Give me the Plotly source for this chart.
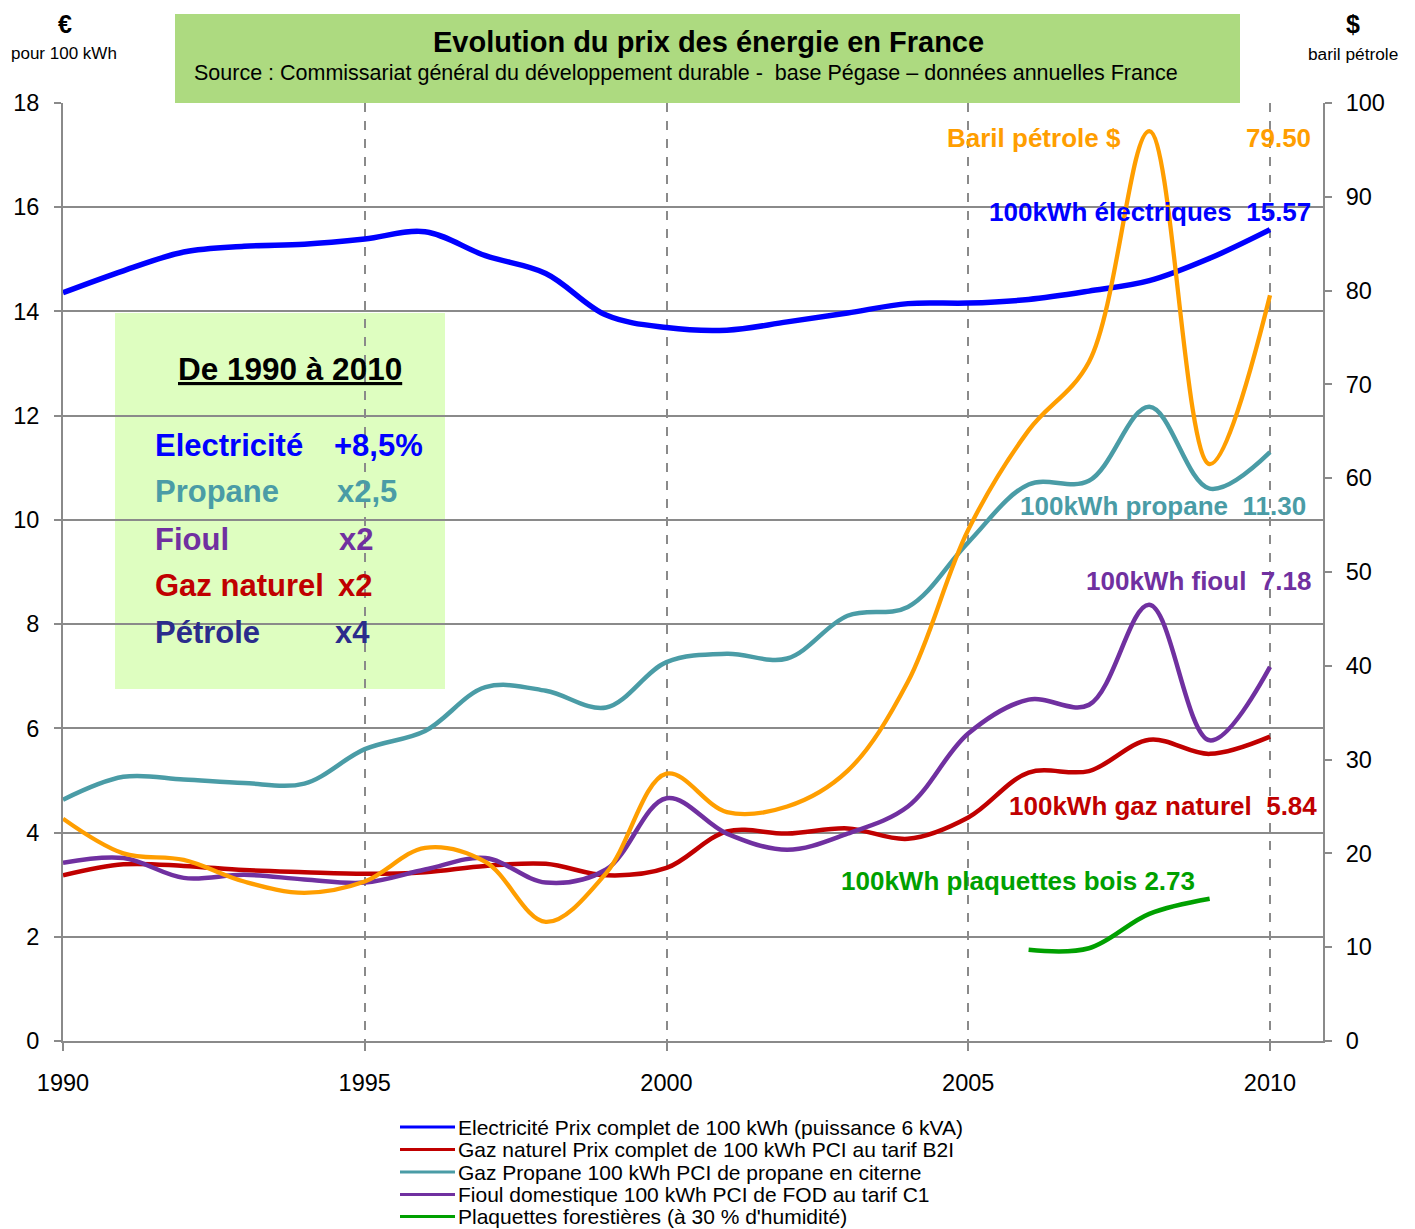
import plotly.graph_objects as go

# ---------------- data ----------------
years = list(range(1990, 2011))
elec = [14.36, 14.78, 15.14, 15.25, 15.29, 15.39, 15.53, 15.07, 14.73, 13.93, 13.69,
        13.64, 13.80, 13.97, 14.15, 14.16, 14.23, 14.39, 14.59, 15.02, 15.57]
gaz = [3.18, 3.39, 3.36, 3.28, 3.24, 3.21, 3.24, 3.36, 3.40, 3.18, 3.32,
       4.02, 3.98, 4.08, 3.88, 4.29, 5.15, 5.18, 5.78, 5.51, 5.84]
propane = [4.63, 5.07, 5.02, 4.95, 4.94, 5.60, 5.95, 6.79, 6.72, 6.40, 7.27,
           7.43, 7.34, 8.16, 8.33, 9.57, 10.68, 10.75, 12.17, 10.60, 11.30]
fioul = [3.42, 3.51, 3.13, 3.19, 3.10, 3.04, 3.29, 3.51, 3.04, 3.29, 4.66,
         3.98, 3.67, 3.98, 4.50, 5.90, 6.55, 6.45, 8.37, 5.77, 7.18]
bois_years = [2006, 2007, 2008, 2009]
bois = [1.75, 1.78, 2.44, 2.73]
petrole = [23.7, 20.0, 19.3, 17.0, 15.8, 17.0, 20.6, 19.1, 12.7, 17.9, 28.5,
           24.4, 25.0, 28.8, 38.3, 54.5, 65.1, 72.4, 97.0, 61.5, 79.5]

x_ticks = [1990, 1995, 2000, 2005, 2010]
left_ticks = list(range(0, 19, 2))
right_ticks = list(range(0, 101, 10))

legend_names = [
    "Electricité Prix complet de 100 kWh (puissance 6 kVA)",
    "Gaz naturel Prix complet de 100 kWh PCI au tarif B2I",
    "Gaz Propane 100 kWh PCI de propane en citerne",
    "Fioul domestique 100 kWh PCI de FOD au tarif C1",
    "Plaquettes forestières (à 30 % d'humidité)",
]

# ---------------- styles ----------------
BLUE = "#0000FF"
RED = "#C00000"
TEAL = "#4A9CA6"
PURPLE = "#7030A0"
ORANGE = "#FF9E00"
GREEN = "#00A000"
NAVY = "#2B2C8C"
GRID = "#8A8A8A"
FONT = "Liberation Sans, Arial, sans-serif"

# page offset caused by the default body margin of the html page
OFF = 8
PAGE_W, PAGE_H = 1415, 1229
W, H = PAGE_W - OFF, PAGE_H - OFF
PLOT_L, PLOT_R, PLOT_T, PLOT_B = 63, 1323, 103, 1041   # page pixels of plot area
ML = PLOT_L - OFF
MT = PLOT_T - OFF
MR = W - (PLOT_R - OFF)
MB = H - (PLOT_B - OFF)
PW = PLOT_R - PLOT_L
PH = PLOT_B - PLOT_T


def px(xp):
    return (xp - PLOT_L) / PW


def py(yp):
    return (PLOT_B - yp) / PH


fig = go.Figure()

series = [
    (years, elec, BLUE, 5.5, legend_names[0]),
    (years, gaz, RED, 4.5, legend_names[1]),
    (years, propane, TEAL, 4.5, legend_names[2]),
    (years, fioul, PURPLE, 4.5, legend_names[3]),
    (bois_years, bois, GREEN, 4.5, legend_names[4]),
]
for xs, ys, col, w, name in series:
    fig.add_trace(go.Scatter(x=xs, y=ys, mode="lines", name=name,
                             line=dict(color=col, width=w, shape="spline", smoothing=1.0),
                             showlegend=False))

fig.add_trace(go.Scatter(x=years, y=petrole, mode="lines", name="Baril pétrole $",
                         yaxis="y2",
                         line=dict(color=ORANGE, width=4.3, shape="spline", smoothing=1.0),
                         showlegend=False))

x_end = 1990 + PW / 60.35

fig.update_layout(
    width=W, height=H, autosize=False,
    margin=dict(l=ML, r=MR, t=MT, b=MB, pad=0),
    paper_bgcolor="white", plot_bgcolor="white",
    font=dict(family=FONT, color="black"),
    showlegend=False,
    xaxis=dict(range=[1990, x_end], tickvals=x_ticks, showgrid=True, gridcolor=GRID,
               griddash="dash", gridwidth=1.5, showline=True, linecolor=GRID, linewidth=2,
               ticks="outside", ticklen=8, tickcolor=GRID, tickwidth=1.5,
               tickfont=dict(size=23.5, family=FONT), ticklabelstandoff=12, zeroline=False,
               automargin=False),
    yaxis=dict(range=[0, 18], tickvals=left_ticks, showgrid=True, gridcolor=GRID, gridwidth=2,
               showline=True, linecolor=GRID, linewidth=2, ticks="outside", ticklen=7,
               tickcolor=GRID, tickwidth=2, tickfont=dict(size=23.5, family=FONT),
               ticklabelstandoff=10, zeroline=False, automargin=False),
    yaxis2=dict(range=[0, 100], tickvals=right_ticks, overlaying="y", side="right",
                showgrid=False, showline=True, linecolor=GRID, linewidth=2, ticks="outside",
                ticklen=7, tickcolor=GRID, tickwidth=2, tickfont=dict(size=23.5, family=FONT),
                ticklabelstandoff=9, zeroline=False, automargin=False),
)

shapes = [
    # title box
    dict(type="rect", xref="paper", yref="paper", x0=px(175), x1=px(1240), y0=py(103), y1=py(14),
         fillcolor="#ADDA80", line=dict(width=0), layer="above"),
    # inset box
    dict(type="rect", xref="paper", yref="paper", x0=px(115), x1=px(445), y0=py(689), y1=py(313),
         fillcolor="#DEFEC0", line=dict(width=0), layer="between"),
]
legend_cols = [BLUE, RED, TEAL, PURPLE, GREEN]
legend_rows = [1127, 1149.5, 1172, 1194.5, 1216.5]
for col, yr in zip(legend_cols, legend_rows):
    shapes.append(dict(type="line", xref="paper", yref="paper", x0=px(400), x1=px(455),
                       y0=py(yr), y1=py(yr), line=dict(color=col, width=3)))
fig.update_layout(shapes=shapes)

ann = []


def add(text, x, y, size, color="black", bold=False, xanchor="center"):
    t = f"<b>{text}</b>" if bold else text
    ann.append(dict(text=t, x=px(x), y=py(y), xref="paper", yref="paper", showarrow=False,
                    xanchor=xanchor, yanchor="middle", borderpad=0,
                    font=dict(size=size, color=color, family=FONT)))


# axis titles
add("€", 65, 24, 25, bold=True)
add("pour 100 kWh", 64, 54, 17)
add("$", 1353, 24, 25, bold=True)
add("baril pétrole", 1353, 54, 17.3)
# title
add("Evolution du prix des énergie en France", 708, 42, 29, bold=True)
add("Source : Commissariat général du développement durable -\u00a0 base Pégase – données annuelles France",
    686, 73, 21.5)
# inset
add("<u>De 1990 à 2010</u>", 290, 369, 31.5, bold=True)
inset_rows = [
    ("Electricité", "+8,5%", BLUE, 446, 333),
    ("Propane", "x2,5", TEAL, 492, 336),
    ("Fioul", "x2", PURPLE, 539, 338),
    ("Gaz naturel", "x2", RED, 585, 337),
    ("Pétrole", "x4", NAVY, 632, 334),
]
for lab, val, col, yy, xv in inset_rows:
    add(lab, 154, yy, 31, col, True, "left")
    add(val, xv, yy, 31, col, True, "left")

# line labels
add("Baril pétrole $", 946, 138, 26, ORANGE, True, "left")
add("79.50", 1312, 138, 26, ORANGE, True, "right")
add("100kWh électriques\u00a0 15.57", 1312, 212, 26, BLUE, True, "right")
add("100kWh propane\u00a0 11.30", 1307, 506, 26, TEAL, True, "right")
add("100kWh fioul\u00a0 7.18", 1312, 581, 26, PURPLE, True, "right")
add("100kWh gaz naturel\u00a0 5.84", 1318, 806, 26, RED, True, "right")
add("100kWh plaquettes bois 2.73", 840, 881, 26, GREEN, True, "left")

# legend texts
for name, yr in zip(legend_names, legend_rows):
    add(name, 457, yr, 21, "black", False, "left")

fig.update_layout(annotations=ann)

fig.write_html("out.html")
